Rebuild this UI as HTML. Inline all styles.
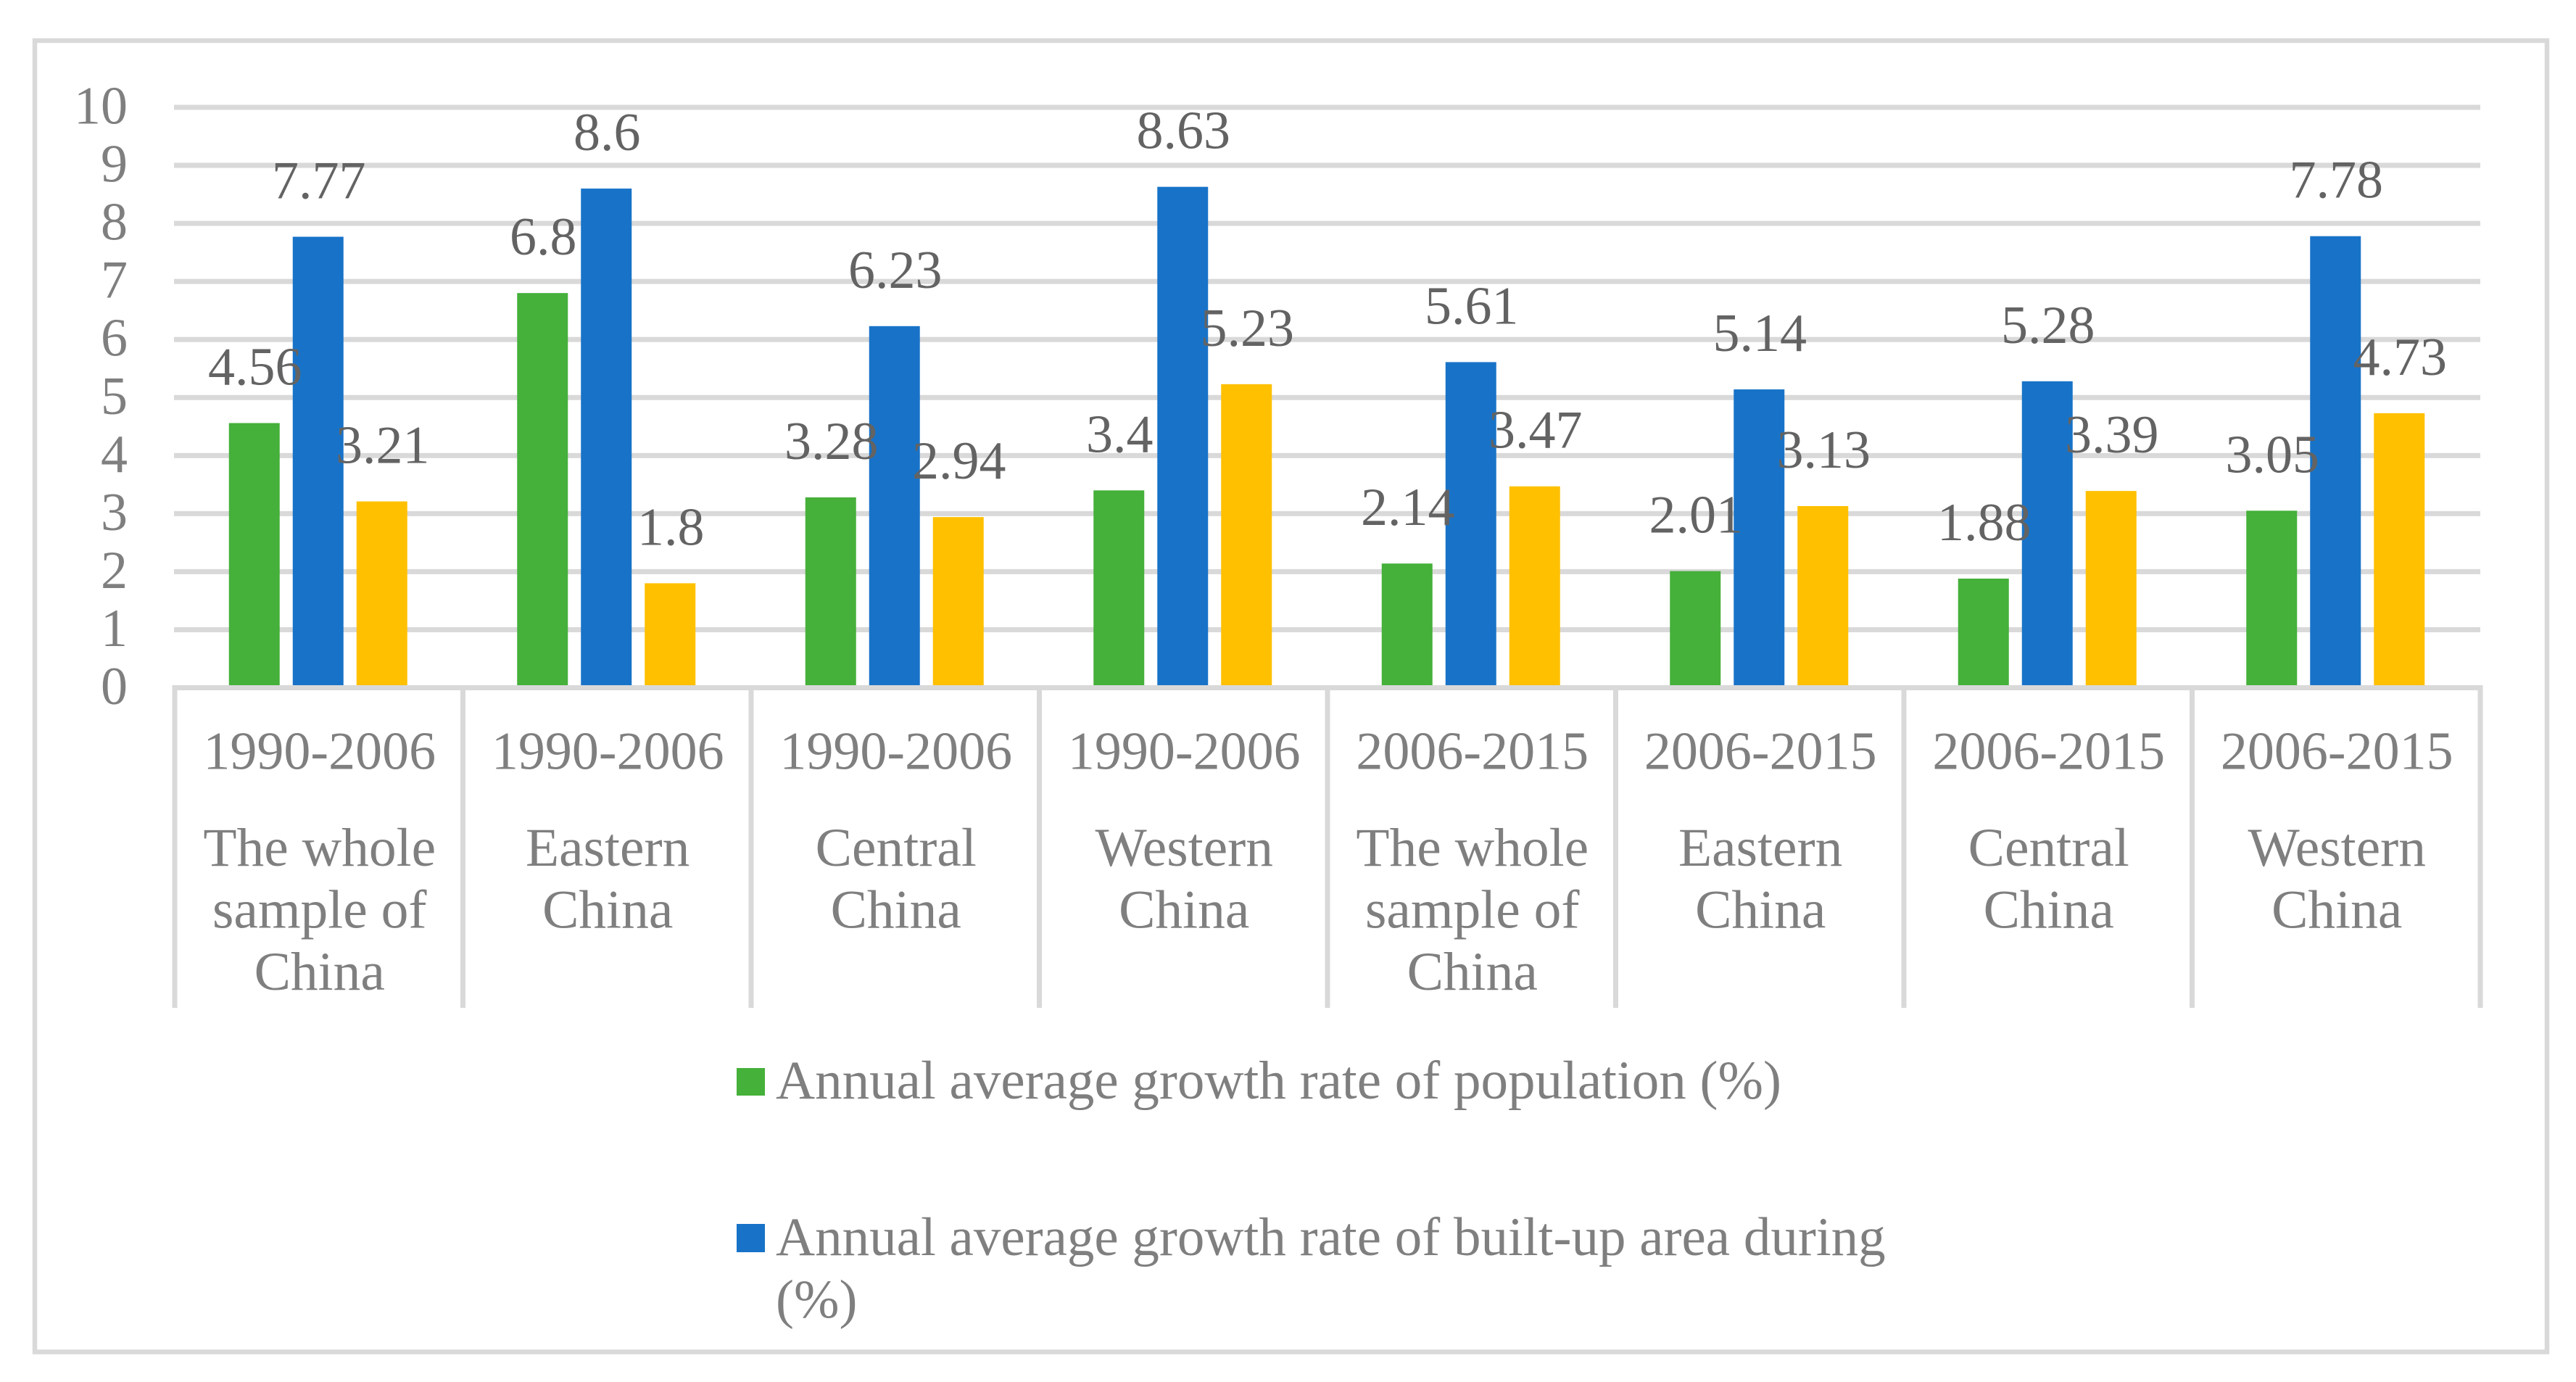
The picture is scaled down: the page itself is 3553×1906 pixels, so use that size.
<!DOCTYPE html>
<html lang="en">
<head>
<meta charset="utf-8">
<title>Annual average growth rates chart</title>
<style>
  html, body { margin: 0; padding: 0; background: #ffffff; }
  svg { display: block; font-family: "Liberation Serif", serif; }
</style>
</head>
<body>
<svg id="chart" xmlns="http://www.w3.org/2000/svg" width="3553" height="1906" viewBox="0 0 3553 1906">
  <rect x="0" y="0" width="3553" height="1906" fill="#ffffff"/>
  <rect x="48" y="56" width="3465" height="1808.5" fill="none" stroke="#d9d9d9" stroke-width="6.5"/>
  <g id="grid"></g>
  <g id="yticks"></g>
  <g id="bars"></g>
  <g id="xaxis"></g>
  <g id="values"></g>
  <g font-size="75" fill="#7f7f7f">
    <g>
      <rect x="1016" y="1473" width="39" height="38" fill="#45b03a"/>
      <text x="1070" y="1515">Annual average growth rate of population (%)</text>
    </g>
    <g>
      <rect x="1016" y="1688" width="39" height="39" fill="#1873c8"/>
      <text x="1070" y="1731">Annual average growth rate of built-up area during</text>
      <text x="1070" y="1817">(%)</text>
    </g>
  </g>
</svg>
<script>
const periods = ["1990-2006","1990-2006","1990-2006","1990-2006","2006-2015","2006-2015","2006-2015","2006-2015"];
const regions = [
  ["The whole","sample of","China"],
  ["Eastern","China"],
  ["Central","China"],
  ["Western","China"],
  ["The whole","sample of","China"],
  ["Eastern","China"],
  ["Central","China"],
  ["Western","China"]
];
const populationValues = [4.56, 6.8, 3.28, 3.4, 2.14, 2.01, 1.88, 3.05];
const builtUpValues = [7.77, 8.6, 6.23, 8.63, 5.61, 5.14, 5.28, 7.78];
const thirdSeriesValues = [3.21, 1.8, 2.94, 5.23, 3.47, 3.13, 3.39, 4.73];
const yTicks = [0, 1, 2, 3, 4, 5, 6, 7, 8, 9, 10];

const NS = "http://www.w3.org/2000/svg";
const plotLeft = 241, plotRight = 3421, axisY = 948.5, topY = 148;
const barWidth = 70, barStep = 88;
const bandWidth = (plotRight - plotLeft) / periods.length;

function yScale(v) { return axisY - (axisY - topY) * v / 10; }
function xBand(i) { return plotLeft + bandWidth * i; }
function xCenter(i) { return xBand(i) + bandWidth / 2 - 1; }

function make(tag, parent, attrs, text) {
  const el = document.createElementNS(NS, tag);
  for (const k in attrs) el.setAttribute(k, attrs[k]);
  if (text !== undefined) el.textContent = text;
  parent.appendChild(el);
  return el;
}

const gridG = document.getElementById("grid");
const tickG = document.getElementById("yticks");
yTicks.forEach(function (t) {
  if (t !== 0) {
    const line = make("rect", gridG, { x: plotLeft - 1, y: yScale(t) - 3.5, width: plotRight - plotLeft + 1, height: 7, fill: "#d9d9d9" });
    
    
  }
  const label = make("text", tickG, { x: 176, y: yScale(t) + 22.5, "text-anchor": "end", "font-size": 74, fill: "#7f7f7f" }, String(t));
  
  
});

const seriesList = [
  { key: "population", values: populationValues, color: "#45b03a" },
  { key: "built-up-area", values: builtUpValues, color: "#1873c8" },
  { key: "third-series", values: thirdSeriesValues, color: "#ffc000" }
];
const barG = document.getElementById("bars");
const valG = document.getElementById("values");
seriesList.forEach(function (s, si) {
  s.values.forEach(function (v, i) {
    const cx = xCenter(i) + (si - 1) * barStep;
    const bar = make("rect", barG, { x: cx - barWidth / 2, y: yScale(v), width: barWidth, height: axisY - yScale(v), fill: s.color });
    
    
    const lab = make("text", valG, { x: cx + 1, y: yScale(v) - 53, "text-anchor": "middle", "font-size": 74, fill: "#636363" }, String(v));
    
    
  });
});

const xG = document.getElementById("xaxis");
const axisLine = make("rect", xG, { x: plotLeft - 3.5, y: axisY - 3.5, width: plotRight - plotLeft + 7, height: 7, fill: "#d9d9d9" });


for (let i = 0; i <= periods.length; i++) {
  const div = make("rect", xG, { x: xBand(i) - 3.5, y: axisY - 3.5, width: 7, height: 445, fill: "#d9d9d9" });
  
  
}
periods.forEach(function (p, i) {
  const cx = xBand(i) + bandWidth / 2 + 1;
  const pl = make("text", xG, { x: cx, y: 1060.5, "text-anchor": "middle", "font-size": 74, fill: "#7f7f7f" }, p);
  
  
  regions[i].forEach(function (line, li) {
    const rl = make("text", xG, { x: cx, y: 1194 + li * 85.5, "text-anchor": "middle", "font-size": 75.5, fill: "#7f7f7f" }, line);
    
    
  });
});
</script>
</body>
</html>
